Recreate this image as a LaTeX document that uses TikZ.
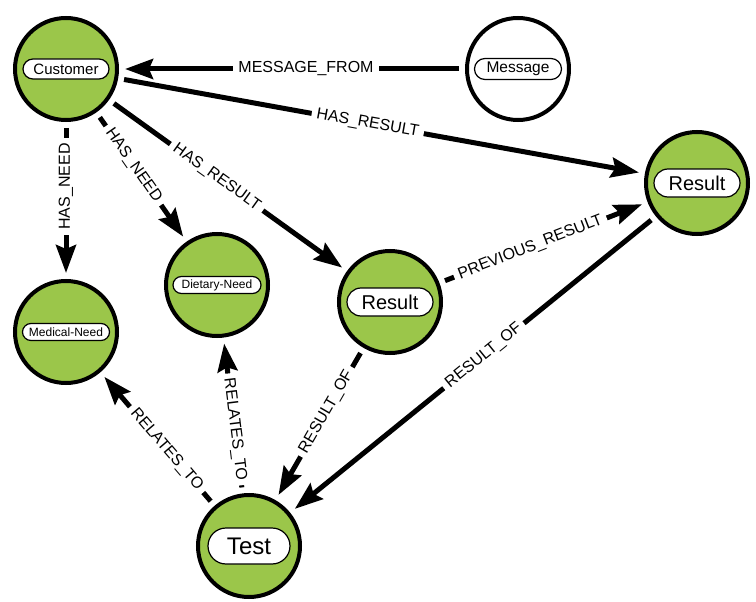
\documentclass[tikz,border=0pt]{standalone}
\usepackage{fontspec}
\setmainfont{Liberation Sans}
\usetikzlibrary{arrows.meta,shapes.misc,calc}
\definecolor{nodegreen}{RGB}{155,198,74}
\tikzset{
  entity/.style={circle, draw=black, line width=4pt, fill=nodegreen,
                 minimum size=102pt, inner sep=0pt},
  blank/.style={entity, fill=white},
  tag/.style={rounded rectangle, draw=black, line width=1.2pt, fill=white,
              inner sep=0pt},
  rel/.style={line width=5pt, -{Stealth[length=28pt,width=20pt,inset=4pt]},
              shorten <=6pt, shorten >=6pt},
  rellabel/.style={fill=white, inner xsep=5pt, inner ysep=1pt, sloped,
                   font=\fontsize{16pt}{16pt}\selectfont}
}
% relation arrow from #1 to #2 with its caption centred on the shaft
\newcommand{\linkrel}[3]{%
  \draw[rel] (#1) -- (#2);
  \path ($(#2.center)!28pt!(#1.center)$) -- (#1.center)
        node[midway, rellabel] {#3};
}
\begin{document}
\begin{tikzpicture}[x=1pt,y=-1pt]
\useasboundingbox (0,0) rectangle (756,602);

% entities
\node[entity] (cust) at (66,69) {};
\node[blank]  (msg)  at (518,69) {};
\node[entity] (resA) at (697,183) {};
\node[entity] (resB) at (390,302) {};
\node[entity] (diet) at (217,285) {};
\node[entity] (med)  at (66,332) {};
\node[entity] (test) at (249,546) {};

% captions inside the entities
\node[tag, minimum width=86pt, minimum height=20pt,
      font=\fontsize{15pt}{15pt}\selectfont] (custT) at (cust) {Customer};
\node[tag, minimum width=87pt, minimum height=21pt,
      font=\fontsize{15.5pt}{15.5pt}\selectfont] (msgT) at (msg) {Message};
\node[tag, minimum width=86pt, minimum height=28pt,
      font=\fontsize{20pt}{20pt}\selectfont] (resAT) at (resA) {Result};
\node[tag, minimum width=86pt, minimum height=28pt,
      font=\fontsize{20pt}{20pt}\selectfont] (resBT) at (resB) {Result};
\node[tag, minimum width=88pt, minimum height=17pt,
      font=\fontsize{12pt}{12pt}\selectfont] (dietT) at (diet) {Dietary-Need};
\node[tag, minimum width=87pt, minimum height=17pt,
      font=\fontsize{12pt}{12pt}\selectfont] (medT) at (med) {Medical-Need};
\node[tag, minimum width=82pt, minimum height=36pt,
      font=\fontsize{24pt}{24pt}\selectfont] (testT) at (test) {Test};

% relations
\linkrel{msg}{cust}{MESSAGE\_FROM}
\linkrel{cust}{resA}{HAS\_RESULT}
\linkrel{cust}{resB}{HAS\_RESULT}
\linkrel{cust}{diet}{HAS\_NEED}
\linkrel{cust}{med}{HAS\_NEED}
\linkrel{resB}{resA}{PREVIOUS\_RESULT}
\linkrel{resB}{test}{RESULT\_OF}
\linkrel{resA}{test}{RESULT\_OF}
\linkrel{test}{med}{RELATES\_TO}
\linkrel{test}{diet}{RELATES\_TO}
\end{tikzpicture}
\end{document}
